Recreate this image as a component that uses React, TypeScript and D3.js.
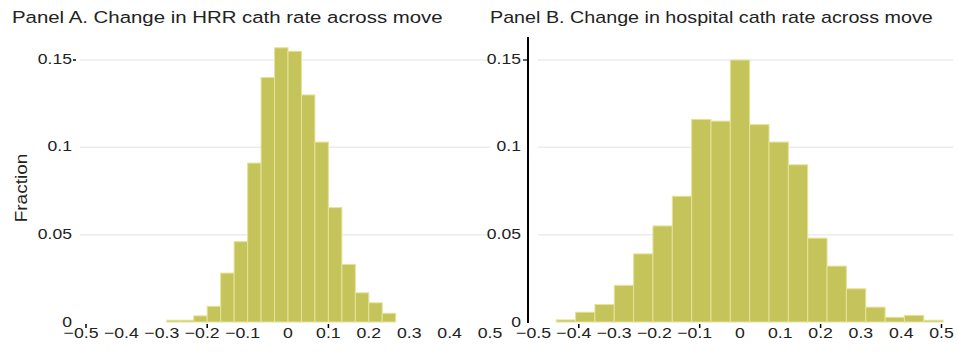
import React from 'react';
import * as d3 from 'd3';

// Panel A: HRR-level change, bins of width 1/30 starting at -0.3
const hrrBinStart = -0.3;
const hrrBinWidth = 1 / 30;
const hrrFractions = [
  0.001, 0.001, 0.0035, 0.009, 0.028, 0.046, 0.091, 0.14, 0.157,
  0.155, 0.13, 0.103, 0.0655, 0.033, 0.0167, 0.011, 0.005,
];

// Panel B: hospital-level change, bins of width 0.048 starting at -0.456
const hospBinStart = -0.456;
const hospBinWidth = 0.048;
const hospFractions = [
  0.0012, 0.0056, 0.01, 0.021, 0.039, 0.055, 0.072, 0.116, 0.115, 0.15,
  0.113, 0.103, 0.09, 0.048, 0.032, 0.019, 0.0085, 0.0027, 0.0038, 0.001,
];

const xTicks = [-0.5, -0.4, -0.3, -0.2, -0.1, 0, 0.1, 0.2, 0.3, 0.4, 0.5];
const xMarks = {
  a: [-0.5, -0.2, 0.1],
  b: [-0.4, -0.1, 0.2, 0.5],
};
const yTicks = [0, 0.05, 0.1, 0.15];
const yTickLabels = ['0', '0.05', '0.1', '0.15'];

const titles = {
  a: 'Panel A. Change in HRR cath rate across move',
  b: 'Panel B. Change in hospital cath rate across move',
};

const FONT = '"Liberation Sans", Arial, Helvetica, sans-serif';
const BAR_FILL = '#c5c45a';
const BAR_EDGE = '#e4e39a';
const GRID = '#ececec';
const TEXT = '#222';

const Txt = ({ x, y, size, sx = 1.2, anchor = 'start', rotate = 0, children }: any) => (
  <text
    transform={`translate(${x},${y}) rotate(${rotate}) scale(${sx},1)`}
    fontSize={size}
    fontFamily={FONT}
    fill={TEXT}
    textAnchor={anchor}
  >
    {children}
  </text>
);

const fmt = (v: number) => {
  const s = d3.format('.1f')(Math.abs(v));
  if (v === 0) return '0';
  return (v < 0 ? '\u2212' : '') + s;
};

interface PanelProps {
  binStart: number;
  binWidth: number;
  values: number[];
  xRange: [number, number];
  gridRange: [number, number];
  labelRight: number;
  marks: number[];
  axisLine: boolean;
}

const Panel = ({ binStart, binWidth, values, xRange, gridRange, labelRight, marks, axisLine }: PanelProps) => {
  const x = d3.scaleLinear().domain([-0.5, 0.5]).range(xRange);
  const y = d3.scaleLinear().domain([0, 0.15]).range([322, 60]);
  const bins = values.map((v, i) => ({
    x0: binStart + i * binWidth,
    x1: binStart + (i + 1) * binWidth,
    v,
  }));
  return (
    <g>
      {yTicks.slice(1).map((t) => (
        <line key={t} x1={gridRange[0]} x2={gridRange[1]} y1={y(t)} y2={y(t)} stroke={GRID} strokeWidth={1.5} />
      ))}
      {bins.map((b, i) => (
        <rect
          key={i}
          x={x(b.x0)}
          y={y(b.v)}
          width={x(b.x1) - x(b.x0)}
          height={y(0) - y(b.v)}
          fill={BAR_FILL}
          stroke={BAR_EDGE}
          strokeWidth={1}
        />
      ))}
      {yTicks.map((t, i) => (
        <Txt key={t} x={labelRight} y={y(t) + 5 - (t === 0 ? 0 : 1)} size={15} sx={1.17} anchor="end">
          {yTickLabels[i]}
        </Txt>
      ))}
      {axisLine ? (
        <g>
          <line x1={labelRight + 7} x2={labelRight + 7} y1={37} y2={y(0) + 1} stroke="#000" strokeWidth={2} />
          <line x1={labelRight + 2} x2={labelRight + 7} y1={y(0.15)} y2={y(0.15)} stroke="#000" strokeWidth={1.2} />
        </g>
      ) : (
        <line x1={labelRight + 1} x2={labelRight + 4} y1={y(0.15)} y2={y(0.15)} stroke="#000" strokeWidth={1.5} />
      )}
      {marks.map((m) => (
        <line key={m} x1={x(m)} x2={x(m)} y1={y(0) + 2} y2={y(0) + 6} stroke="#000" strokeWidth={1.5} />
      ))}
      {xTicks.map((t) => (
        <Txt key={t} x={x(t) - (t < 0 ? 5 : 0)} y={338} size={15} sx={1.18} anchor="middle">
          {fmt(t)}
        </Txt>
      ))}
    </g>
  );
};

export default function App() {
  return (
    <svg
      width={958}
      height={354}
      style={{ position: 'absolute', left: 0, top: 0, background: '#fff' }}
    >
      <rect width={958} height={354} fill="#fff" />
      <Txt x={12} y={23} size={17} sx={1.2}>{titles.a}</Txt>
      <Txt x={490} y={23} size={17} sx={1.16}>{titles.b}</Txt>
      <Txt x={27} y={188} size={17} sx={1.12} rotate={-90} anchor="middle">Fraction</Txt>
      <Panel
        binStart={hrrBinStart}
        binWidth={hrrBinWidth}
        values={hrrFractions}
        xRange={[86, 490]}
        gridRange={[80, 490]}
        labelRight={72}
        marks={xMarks.a}
        axisLine={false}
      />
      <Panel
        binStart={hospBinStart}
        binWidth={hospBinWidth}
        values={hospFractions}
        xRange={[538.5, 941.5]}
        gridRange={[538, 953]}
        labelRight={521}
        marks={xMarks.b}
        axisLine={true}
      />
    </svg>
  );
}
